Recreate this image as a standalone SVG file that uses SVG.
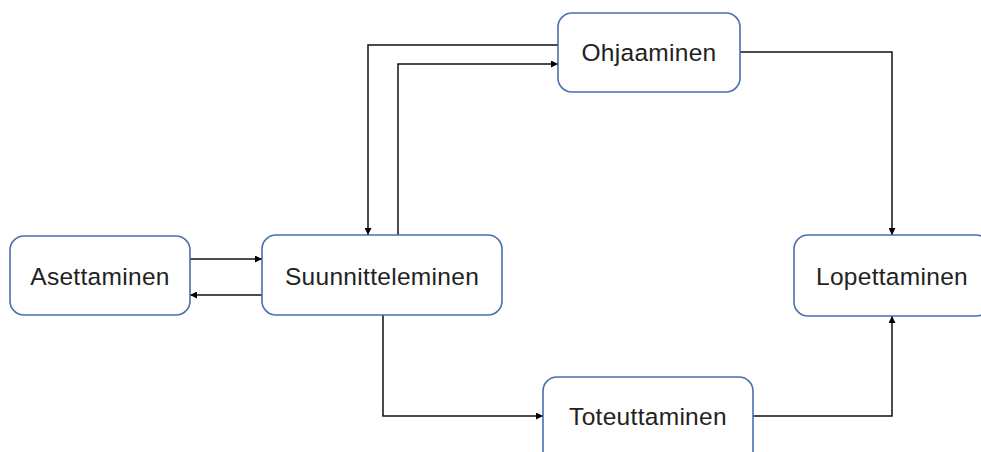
<svg xmlns="http://www.w3.org/2000/svg" width="981" height="452" viewBox="0 0 981 452">
  <defs>
    <marker id="arrow" viewBox="0 0 10 10" refX="10" refY="5" markerWidth="7" markerHeight="7" markerUnits="userSpaceOnUse" orient="auto">
      <path d="M0,0 L10,5 L0,10 z" fill="#000"/>
    </marker>
    <style>
      .node rect { fill: #fff; stroke: #4a6fb0; stroke-width: 1.6; }
      .node text { font-family: "Liberation Sans", Arial, sans-serif; font-size: 24.5px; letter-spacing: 0.3px; fill: #222; text-anchor: middle; dominant-baseline: central; }
      .edge { fill: none; stroke: #111; stroke-width: 1.5; marker-end: url(#arrow); }
    </style>
  </defs>
  <rect width="981" height="452" fill="#fff"/>

  <g id="connectors">
    <path class="edge" d="M190,259 H262"/>
    <path class="edge" d="M262,295 H190"/>
    <path class="edge" d="M558,45 H368 V235"/>
    <path class="edge" d="M398,235 V64 H558"/>
    <path class="edge" d="M740,52 H892 V235"/>
    <path class="edge" d="M383,315 V416 H543"/>
    <path class="edge" d="M753,416 H892 V316"/>
  </g>

  <g id="asettaminen" class="node">
    <rect x="10" y="236" width="180" height="79" rx="14"/>
    <text x="100" y="276">Asettaminen</text>
  </g>
  <g id="suunnitteleminen" class="node">
    <rect x="262" y="235" width="240" height="80" rx="14"/>
    <text x="382" y="276">Suunnitteleminen</text>
  </g>
  <g id="ohjaaminen" class="node">
    <rect x="558" y="13" width="182" height="79" rx="14"/>
    <text x="649" y="52">Ohjaaminen</text>
  </g>
  <g id="lopettaminen" class="node">
    <rect x="794" y="235" width="196" height="81" rx="14"/>
    <text x="892" y="276">Lopettaminen</text>
  </g>
  <g id="toteuttaminen" class="node">
    <rect x="543" y="377" width="210" height="90" rx="14"/>
    <text x="648" y="416">Toteuttaminen</text>
  </g>
</svg>
